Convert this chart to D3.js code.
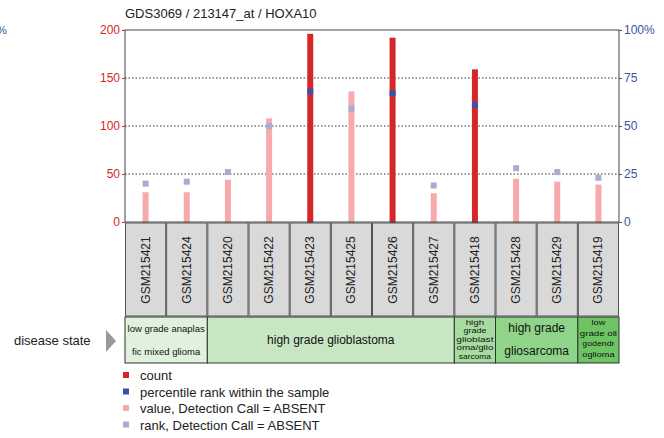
<!DOCTYPE html>
<html>
<head>
<meta charset="utf-8">
<script src="https://cdn.jsdelivr.net/npm/d3@7"></script>
<style>
body { margin: 0; background: #fff; }
text { font-family: "Liberation Sans", Arial, sans-serif; }
</style>
</head>
<body>
<div id="chart"></div>
<script>
const samples = ["GSM215421", "GSM215424", "GSM215420", "GSM215422", "GSM215423", "GSM215425",
    "GSM215426", "GSM215427", "GSM215418", "GSM215428", "GSM215429", "GSM215419"]
// count values; absent ones are drawn pink
const counts = [31, 31, 44, 108, 196, 136, 192, 30, 159, 45, 42, 39]
const present = [false, false, false, false, true, false, true, false, true, false, false, false]
const ranks = [20, 21, 26, 50, 68, 59, 67, 19, 61, 28, 26, 23]
const leftTicks = [0, 50, 100, 150, 200]
const rightTicks = [0, 25, 50, 75, 100]
const groups = [
    { lines: ["low grade anaplas", "fic mixed glioma"], span: 2, color: "#e0f2de" },
    { lines: ["high grade glioblastoma"], span: 6, color: "#c8e6c3" },
    { lines: ["high", "grade", "glioblast", "oma/glio", "sarcoma"], span: 1, color: "#a6dc9f" },
    { lines: ["high grade", "gliosarcoma"], span: 2, color: "#8fd488" },
    { lines: ["low", "grade oli", "godendr", "oglioma"], span: 1, color: "#6cc462" }
]
const legendItems = [
    { label: "count", color: "#d62728" },
    { label: "percentile rank within the sample", color: "#3a53a4" },
    { label: "value, Detection Call = ABSENT", color: "#f7a9ab" },
    { label: "rank, Detection Call = ABSENT", color: "#aaaad6" }
]

const width = 664
const height = 438
const margin = { top: 30, left: 125, right: 45 }
const plotBottom = 222
const innerWidth = width - margin.left - margin.right

const svg = d3.select("#chart").append("svg")
    .attr("width", width)
    .attr("height", height)

const x = d3.scaleBand().domain(samples).range([margin.left, margin.left + innerWidth])
const yLeft = d3.scaleLinear().domain([0, 200]).range([plotBottom, margin.top])
const yRight = d3.scaleLinear().domain([0, 100]).range([plotBottom, margin.top])

svg.append("text")
    .attr("x", margin.left).attr("y", 18)
    .attr("font-size", 13).attr("fill", "#222")
    .text("GDS3069 / 213147_at / HOXA10")

svg.append("text")
    .attr("x", -3).attr("y", 34)
    .attr("font-size", 11).attr("fill", "#3a53a4")
    .text("%")

// gridlines
svg.append("g").selectAll("line")
    .data([50, 100, 150])
    .join("line")
    .attr("x1", margin.left).attr("x2", margin.left + innerWidth)
    .attr("y1", d => yLeft(d)).attr("y2", d => yLeft(d))
    .attr("stroke", "#333").attr("stroke-dasharray", "1.5,2")

// bars
const bw = 6
svg.append("g").selectAll("rect")
    .data(samples)
    .join("rect")
    .attr("x", d => x(d) + x.bandwidth() / 2 - bw / 2)
    .attr("width", bw)
    .attr("y", (d, i) => yLeft(counts[i]))
    .attr("height", (d, i) => plotBottom + 2 - yLeft(counts[i]))
    .attr("fill", (d, i) => present[i] ? "#d62728" : "#f7a9ab")

// rank squares
svg.append("g").selectAll("rect")
    .data(samples)
    .join("rect")
    .attr("x", d => x(d) + x.bandwidth() / 2 - 3)
    .attr("width", 6)
    .attr("y", (d, i) => yRight(ranks[i]) - 3)
    .attr("height", 6)
    .attr("fill", (d, i) => present[i] ? "#3a53a4" : "#aaaad6")

// frame
svg.append("rect")
    .attr("x", margin.left).attr("y", margin.top)
    .attr("width", innerWidth).attr("height", plotBottom - margin.top)
    .attr("fill", "none").attr("stroke", "#444")

const leftAxis = svg.append("g")
    .attr("transform", `translate(${margin.left},0)`)
    .call(d3.axisLeft(yLeft).tickValues(leftTicks).tickSize(3).tickPadding(2))
leftAxis.select(".domain").remove()
leftAxis.selectAll("line").attr("stroke", "#d62728")
leftAxis.selectAll("text").attr("fill", "#d62728").attr("font-size", 12)
    .attr("font-family", "Liberation Sans, Arial, sans-serif")

const rightAxis = svg.append("g")
    .attr("transform", `translate(${margin.left + innerWidth},0)`)
    .call(d3.axisRight(yRight).tickValues(rightTicks).tickSize(3).tickPadding(2)
        .tickFormat(d => d === 100 ? "100%" : d))
rightAxis.select(".domain").remove()
rightAxis.selectAll("line").attr("stroke", "#3a53a4")
rightAxis.selectAll("text").attr("fill", "#3a53a4").attr("font-size", 12)
    .attr("font-family", "Liberation Sans, Arial, sans-serif")

// sample label boxes
const labelTop = 223
const labelBottom = 316
const lab = svg.append("g").selectAll("g")
    .data(samples)
    .join("g")
lab.append("rect")
    .attr("x", d => x(d) + 0.5)
    .attr("y", labelTop)
    .attr("width", x.bandwidth() - 1)
    .attr("height", labelBottom - labelTop)
    .attr("fill", "#d9d9d9").attr("stroke", "#555")
lab.append("text")
    .attr("transform", d => `translate(${x(d) + x.bandwidth() / 2 + 4},${labelTop + 47}) rotate(-90)`)
    .attr("text-anchor", "middle")
    .attr("font-size", 12).attr("fill", "#222")
    .text(d => d)

// disease state row
const rowTop = 317
const rowBottom = 363
let col = 0
groups.forEach(g => {
    const x0 = x(samples[col])
    const x1 = x(samples[col + g.span - 1]) + x.bandwidth()
    col += g.span
    svg.append("rect")
        .attr("x", x0).attr("y", rowTop)
        .attr("width", x1 - x0).attr("height", rowBottom - rowTop)
        .attr("fill", g.color).attr("stroke", "#333")
    const cx = (x0 + x1) / 2
    let fs = 12
    if (g.span === 1) fs = 8
    else if (g.lines.length === 2 && g.lines[0].length > 12) fs = 9.5
    let ys
    if (g.lines.length === 1) ys = [(rowTop + rowBottom) / 2 + 4]
    else if (g.lines.length === 2) ys = [rowTop + 15, rowTop + 38]
    else {
        const step = (rowBottom - rowTop - 4) / g.lines.length
        ys = g.lines.map((l, i) => rowTop + 8 + i * step)
    }
    g.lines.forEach((l, i) => {
        svg.append("text")
            .attr("x", cx).attr("y", ys[i])
            .attr("text-anchor", "middle")
            .attr("font-size", fs)
            .attr("font-family", "DejaVu Sans Condensed, Liberation Sans Narrow, sans-serif")
            .attr("fill", "#111")
            .attr("textLength", g.span === 1 ? Math.min(l.length * 4.6, x1 - x0 - 4) : null)
            .attr("lengthAdjust", "spacingAndGlyphs")
            .text(l)
    })
})

svg.append("text")
    .attr("x", 14).attr("y", 345)
    .attr("font-size", 13).attr("fill", "#222")
    .text("disease state")
svg.append("path")
    .attr("d", "M106,330 L116,341 L106,352 Z")
    .attr("fill", "#999")

// legend
const legend = svg.append("g").selectAll("g")
    .data(legendItems)
    .join("g")
    .attr("transform", (d, i) => `translate(123,${375 + i * 16.5})`)
legend.append("rect")
    .attr("x", 0).attr("y", -3).attr("width", 6).attr("height", 6)
    .attr("fill", d => d.color)
legend.append("text")
    .attr("x", 17).attr("y", 5)
    .attr("font-size", 13).attr("fill", "#222")
    .text(d => d.label)
</script>
</body>
</html>
